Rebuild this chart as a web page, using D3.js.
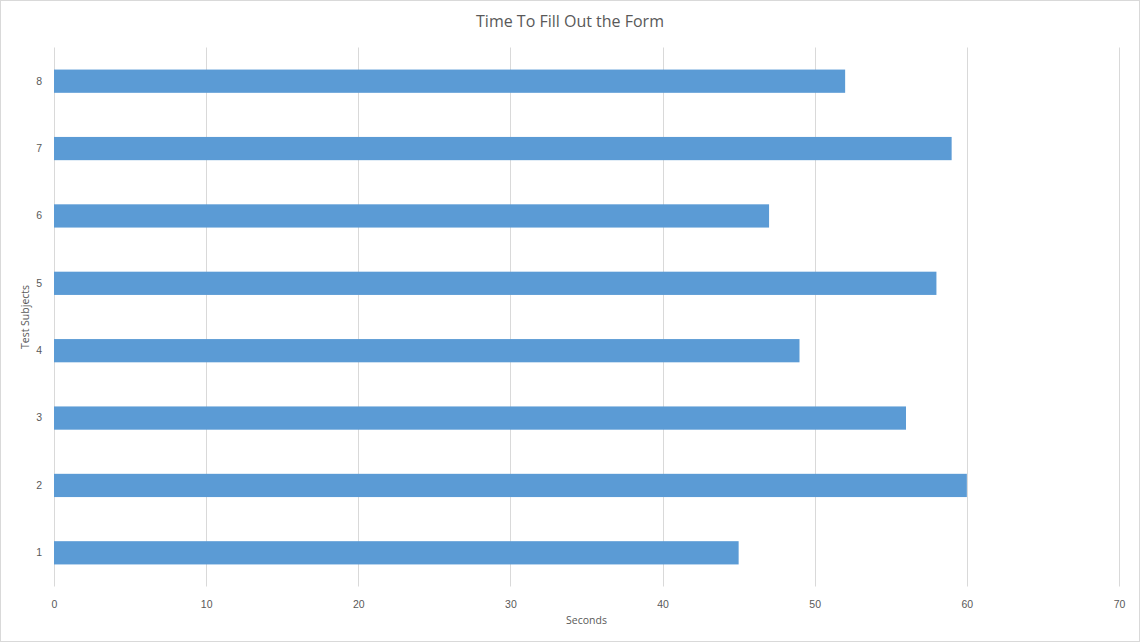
<!DOCTYPE html>
<html>
<head>
<meta charset="utf-8">
<script src="https://cdn.jsdelivr.net/npm/d3@7"></script>
<style>
  html, body { margin: 0; padding: 0; background: #fff; }
  svg { display: block; font-family: "Open Sans", "Noto Sans", sans-serif; }
</style>
</head>
<body>
<svg id="chart" width="1140" height="642"></svg>
<script>
// Form completion time per test subject
const subjects = ["1", "2", "3", "4", "5", "6", "7", "8"];
const seconds = [45, 60, 56, 49, 58, 47, 59, 52];
const xTicks = [0, 10, 20, 30, 40, 50, 60, 70];

const W = 1140, H = 642;
const margin = { top: 47.5, right: 21, bottom: 55.5, left: 54 };
const svg = d3.select("#chart");

// outer chart frame
svg.append("rect")
  .attr("x", 0.5).attr("y", 0.5)
  .attr("width", W - 1).attr("height", H - 1)
  .attr("fill", "#fff").attr("stroke", "#d9d9d9");

const x = d3.scaleLinear().domain([0, 70]).range([margin.left, W - margin.right]);
const y = d3.scaleBand().domain(subjects.slice().reverse())
  .range([margin.top, H - margin.bottom]).paddingInner(0.655).paddingOuter(0.3275);

// vertical gridlines
svg.append("g").selectAll("line").data(xTicks).join("line")
  .attr("x1", d => Math.round(x(d)) + 0.5).attr("x2", d => Math.round(x(d)) + 0.5)
  .attr("y1", margin.top).attr("y2", H - margin.bottom)
  .attr("stroke", "#d9d9d9").attr("stroke-width", 1);

// bars
svg.append("g").selectAll("rect").data(subjects).join("rect")
  .attr("x", x(0))
  .attr("y", d => y(d))
  .attr("width", (d, i) => x(seconds[i]) - x(0))
  .attr("height", y.bandwidth())
  .attr("fill", "#5b9bd5");

// x axis labels
const xAxis = svg.append("g")
  .attr("transform", `translate(0,${H - margin.bottom + 14})`)
  .call(d3.axisBottom(x).tickValues(xTicks).tickSize(0).tickPadding(0));
xAxis.select(".domain").remove();
xAxis.selectAll("text").attr("fill", "#595959").attr("font-size", 10.5)
  .attr("dy", "0.71em");

// y axis labels
const yAxis = svg.append("g")
  .attr("transform", `translate(${margin.left - 12},0)`)
  .call(d3.axisLeft(y).tickSize(0).tickPadding(0));
yAxis.select(".domain").remove();
yAxis.selectAll("text").attr("fill", "#595959").attr("font-size", 10.5);

// title
svg.append("text")
  .attr("x", W / 2).attr("y", 27)
  .attr("text-anchor", "middle")
  .attr("fill", "#595959").attr("font-size", 16)
  .text("Time To Fill Out the Form");

// axis titles
svg.append("text")
  .attr("x", (x(0) + x(70)) / 2).attr("y", 624)
  .attr("text-anchor", "middle")
  .attr("fill", "#595959").attr("font-size", 10.5)
  .text("Seconds");

svg.append("text")
  .attr("transform", `translate(29,${(margin.top + H - margin.bottom) / 2}) rotate(-90)`)
  .attr("text-anchor", "middle")
  .attr("fill", "#595959").attr("font-size", 10.5)
  .text("Test Subjects");
</script>
</body>
</html>
